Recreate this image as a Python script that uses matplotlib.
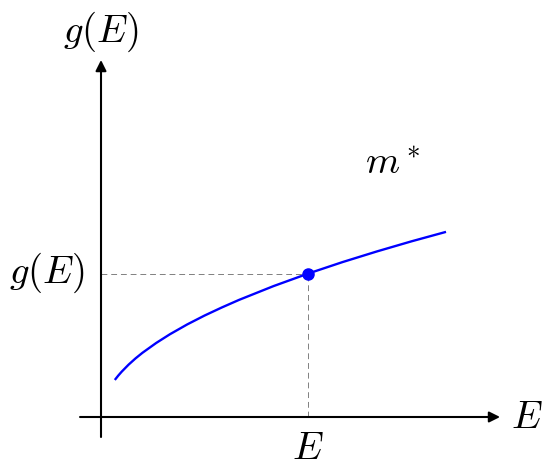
import matplotlib
matplotlib.use('Agg')
import matplotlib.pyplot as plt

plt.rcParams['mathtext.fontset'] = 'cm'

# curve g(E) ~ sqrt(E)
energy = [0.2, 0.25, 0.3, 0.4, 0.5, 0.6, 0.8, 1.0, 1.25, 1.5, 1.75, 2.0, 2.5, 3.0, 3.5, 4.0, 4.5, 5.0]
dos = [0.537, 0.600, 0.657, 0.759, 0.849, 0.930, 1.073, 1.200, 1.342, 1.470, 1.587, 1.697,
       1.897, 2.078, 2.245, 2.400, 2.546, 2.683]
E0 = 3.0
g0 = 2.078

fig = plt.figure(figsize=(5.52, 4.73), dpi=100)
ax = fig.add_axes([0, 0, 1, 1])
ax.set_xlim(-1.4638, 6.536)
ax.set_ylim(-0.8116, 6.0435)
ax.axis('off')

arrow = dict(arrowstyle='-|>', lw=1.5, color='k', mutation_scale=16, shrinkA=0, shrinkB=0)
ax.annotate('', xy=(5.783, 0), xytext=(-0.304, 0), arrowprops=arrow)
ax.annotate('', xy=(0, 5.174), xytext=(0, -0.29), arrowprops=arrow)

ax.plot([0, E0], [g0, g0], color='gray', lw=0.7, dashes=(6, 4))
ax.plot([E0, E0], [0, g0], color='gray', lw=0.7, dashes=(6, 4))

ax.plot(energy, dos, color='blue', lw=1.7, solid_capstyle='butt')
ax.plot([E0], [g0], 'o', color='blue', ms=8)

fs = 28
ax.text(0, 5.58, r'$g(E)$', fontsize=fs, ha='center', va='center')
ax.text(-0.78, 2.087, r'$g(E)$', fontsize=fs, ha='center', va='center')
ax.text(6.17, 0, r'$E$', fontsize=fs, ha='center', va='center')
ax.text(E0, -0.45, r'$E$', fontsize=fs, ha='center', va='center')
ax.text(4.23, 3.68, r'$m^*$', fontsize=fs, ha='center', va='center')

fig.savefig('out.png', dpi=100)
